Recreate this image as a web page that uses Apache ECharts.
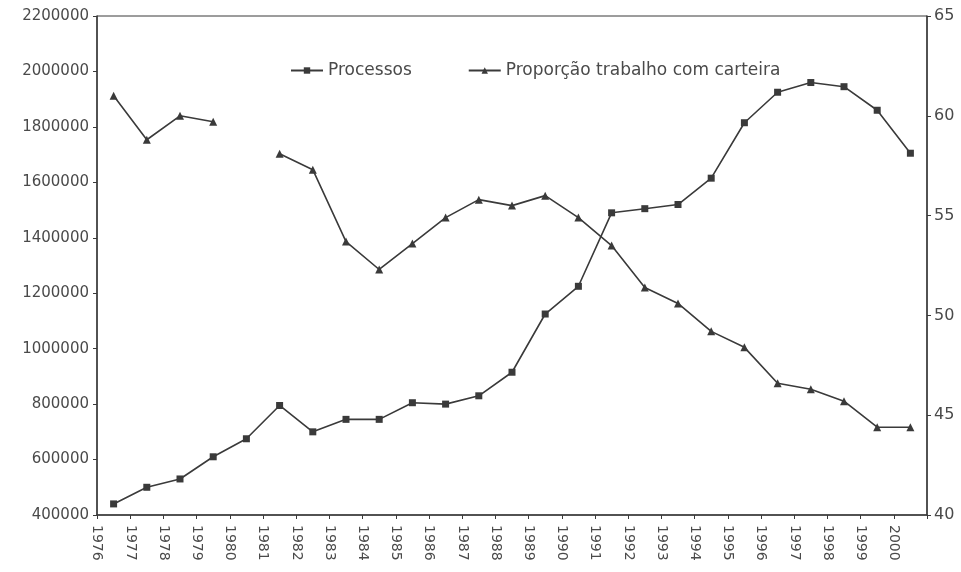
<!DOCTYPE html>
<html>
<head>
<meta charset="utf-8">
<script src="https://cdn.jsdelivr.net/npm/echarts@6/dist/echarts.min.js"></script>
<style>
  html, body { margin: 0; padding: 0; background: #fff; }
  #main { width: 961px; height: 572px; }
</style>
</head>
<body>
<div id="main"></div>
<script>
// anos (uma categoria por ano)
const years = ['1976','1977','1978','1979','1980','1981','1982','1983','1984','1985','1986','1987','1988',
  '1989','1990','1991','1992','1993','1994','1995','1996','1997','1998','1999','2000'];
// rótulos nas marcas do eixo (uma a mais que os anos)
const tickLabels = years.concat(['']);
// número de processos
const processos = [440000, 500000, 530000, 610000, 675000, 795000, 700000, 745000, 745000, 805000,
  800000, 830000, 915000, 1125000, 1225000, 1490000, 1505000, 1520000, 1615000, 1815000,
  1925000, 1960000, 1945000, 1860000, 1705000];
// proporção de trabalho com carteira (%), 1980 sem dado
const proporcao = [61.0, 58.8, 60.0, 59.7, null, 58.1, 57.3, 53.7, 52.3, 53.6,
  54.9, 55.8, 55.5, 56.0, 54.9, 53.5, 51.4, 50.6, 49.2, 48.4,
  46.6, 46.3, 45.7, 44.4, 44.4];

const ink = '#3a3a3a';
const txt = '#4a4a4a';
const font = 'DejaVu Sans, Liberation Sans, sans-serif';

const chart = echarts.init(document.getElementById('main'));
chart.setOption({
  animation: false,
  backgroundColor: '#fff',
  grid: {
    left: 97, right: 34, top: 16, bottom: 57,
    show: true, borderColor: ink, borderWidth: 1
  },
  legend: {
    top: 57,
    left: 285,
    itemGap: 56,
    itemWidth: 32,
    itemHeight: 8,
    textStyle: { color: txt, fontSize: 17, fontFamily: font },
    data: ['Processos', 'Proporção trabalho com carteira']
  },
  xAxis: [
    {
      type: 'category',
      data: years,
      boundaryGap: true,
      show: false
    },
    {
      type: 'category',
      data: tickLabels,
      boundaryGap: false,
      position: 'bottom',
      axisLine: { lineStyle: { color: ink, width: 1.5 } },
      axisTick: { interval: 0, length: 4, lineStyle: { color: ink } },
      axisLabel: {
        interval: 0, rotate: -90, color: txt, fontSize: 14, fontFamily: font, margin: 10
      },
      splitLine: { show: false }
    }
  ],
  yAxis: [
    {
      type: 'value',
      min: 400000, max: 2200000, interval: 200000,
      axisLine: { show: true, lineStyle: { color: ink, width: 1.5 } },
      axisTick: { show: true, length: 4, lineStyle: { color: ink } },
      axisLabel: { color: txt, fontSize: 15, fontFamily: font, margin: 8, formatter: v => String(v) },
      splitLine: { show: false }
    },
    {
      type: 'value',
      min: 40, max: 65, interval: 5,
      position: 'right',
      axisLine: { show: true, lineStyle: { color: ink, width: 1.5 } },
      axisTick: { show: true, length: 4, lineStyle: { color: ink } },
      axisLabel: { color: txt, fontSize: 16, fontFamily: font, margin: 7 },
      splitLine: { show: false }
    }
  ],
  series: [
    {
      name: 'Processos',
      type: 'line',
      xAxisIndex: 0,
      yAxisIndex: 0,
      data: processos,
      symbol: 'rect',
      symbolSize: 7,
      itemStyle: { color: ink },
      lineStyle: { color: ink, width: 1.6 }
    },
    {
      name: 'Proporção trabalho com carteira',
      type: 'line',
      xAxisIndex: 0,
      yAxisIndex: 1,
      data: proporcao,
      connectNulls: false,
      symbol: 'triangle',
      symbolSize: 8,
      itemStyle: { color: ink },
      lineStyle: { color: ink, width: 1.6 }
    }
  ]
});
</script>
</body>
</html>
